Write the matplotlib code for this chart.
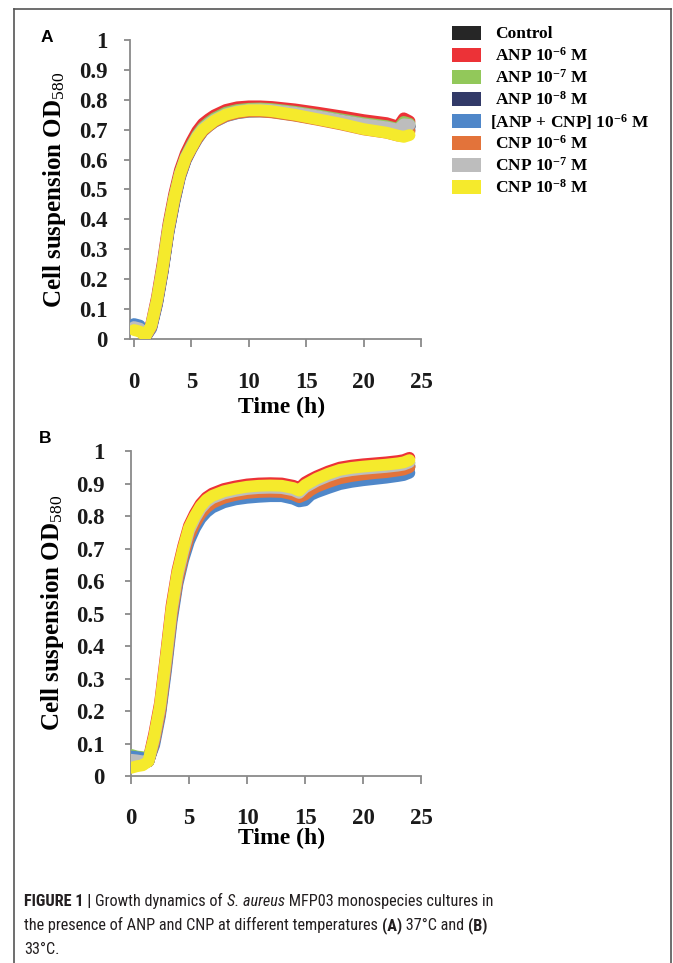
import matplotlib
matplotlib.use('Agg')
import matplotlib.pyplot as plt
from matplotlib.patches import Rectangle
from matplotlib.lines import Line2D
from matplotlib import font_manager

plt.rcParams['font.family'] = 'Liberation Serif'
plt.rcParams['mathtext.fontset'] = 'custom'
plt.rcParams['mathtext.rm'] = 'Liberation Serif'
plt.rcParams['mathtext.bf'] = 'Liberation Serif:bold'
plt.rcParams['mathtext.it'] = 'Liberation Serif:italic'

# series, in drawing order (yellow ends on top)
labels = ['Control', 'ANP 10$^{\\mathbf{-6}}$ M', 'ANP 10$^{\\mathbf{-7}}$ M', 'ANP 10$^{\\mathbf{-8}}$ M',
          '[ANP + CNP] 10$^{\\mathbf{-6}}$ M', 'CNP 10$^{\\mathbf{-6}}$ M', 'CNP 10$^{\\mathbf{-7}}$ M',
          'CNP 10$^{\\mathbf{-8}}$ M']
colors = ['#262626', '#ec3237', '#92c85a', '#323a68', '#4f87c9', '#e3733a', '#bdbdbd', '#f5ea2c']

# panel A, 37 C
time_a = [0, 0.5, 1, 1.5, 2, 2.5, 3, 3.5, 4, 4.5, 5, 5.5, 6, 6.5, 7, 8, 9, 10, 11, 12, 14, 16, 18, 20, 22, 23, 23.5, 24]
control_a = [0.040, 0.035, 0.008, 0.040, 0.120, 0.230, 0.360, 0.460, 0.545, 0.600, 0.638, 0.672, 0.698, 0.715, 0.730,
             0.750, 0.760, 0.765, 0.766, 0.764, 0.755, 0.742, 0.728, 0.714, 0.704, 0.695, 0.712, 0.710]
anp6_a = [0.035, 0.030, 0.012, 0.050, 0.140, 0.255, 0.385, 0.485, 0.565, 0.620, 0.660, 0.695, 0.720, 0.735, 0.748,
          0.766, 0.775, 0.778, 0.778, 0.776, 0.768, 0.757, 0.745, 0.732, 0.722, 0.710, 0.738, 0.728]
anp7_a = [0.040, 0.035, 0.010, 0.045, 0.130, 0.245, 0.375, 0.475, 0.555, 0.610, 0.648, 0.682, 0.708, 0.724, 0.738,
          0.757, 0.766, 0.770, 0.771, 0.769, 0.760, 0.748, 0.735, 0.722, 0.712, 0.702, 0.726, 0.720]
anp8_a = [0.040, 0.035, 0.008, 0.040, 0.120, 0.230, 0.360, 0.460, 0.545, 0.600, 0.638, 0.672, 0.698, 0.715, 0.730,
          0.750, 0.760, 0.765, 0.766, 0.764, 0.755, 0.743, 0.730, 0.716, 0.706, 0.697, 0.714, 0.712]
combo_a = [0.050, 0.045, 0.008, 0.035, 0.115, 0.225, 0.355, 0.455, 0.540, 0.597, 0.635, 0.668, 0.695, 0.712, 0.726,
           0.745, 0.755, 0.760, 0.761, 0.759, 0.748, 0.735, 0.720, 0.704, 0.693, 0.684, 0.695, 0.700]
cnp6_a = [0.035, 0.030, 0.008, 0.040, 0.122, 0.232, 0.362, 0.462, 0.545, 0.600, 0.637, 0.670, 0.696, 0.712, 0.727,
          0.746, 0.756, 0.761, 0.761, 0.758, 0.747, 0.733, 0.718, 0.701, 0.690, 0.680, 0.690, 0.695]
cnp7_a = [0.040, 0.035, 0.010, 0.045, 0.128, 0.240, 0.370, 0.470, 0.552, 0.607, 0.643, 0.678, 0.703, 0.719, 0.733,
          0.752, 0.762, 0.767, 0.768, 0.766, 0.757, 0.745, 0.731, 0.718, 0.708, 0.700, 0.718, 0.716]
cnp8_a = [0.030, 0.025, 0.010, 0.045, 0.130, 0.240, 0.370, 0.470, 0.550, 0.605, 0.640, 0.675, 0.700, 0.715, 0.730,
          0.750, 0.760, 0.765, 0.765, 0.762, 0.750, 0.735, 0.720, 0.702, 0.690, 0.680, 0.676, 0.682]

# panel B, 33 C
time_b = [0, 0.5, 1, 1.5, 2, 2.5, 3, 3.5, 4, 4.5, 5, 5.5, 6, 6.5, 7, 8, 9, 10, 11, 12, 13, 14, 14.5, 15, 15.5, 16,
          17, 18, 19, 20, 21, 22, 23, 23.5, 24]
control_b = [0.050, 0.048, 0.046, 0.045, 0.108, 0.200, 0.340, 0.495, 0.605, 0.680, 0.745, 0.782, 0.812, 0.832, 0.845,
             0.860, 0.868, 0.874, 0.877, 0.878, 0.877, 0.870, 0.862, 0.878, 0.888, 0.898, 0.913, 0.925, 0.931, 0.935,
             0.938, 0.941, 0.945, 0.948, 0.955]
anp6_b = [0.030, 0.035, 0.035, 0.050, 0.130, 0.225, 0.370, 0.525, 0.632, 0.707, 0.770, 0.807, 0.837, 0.857, 0.869,
          0.883, 0.891, 0.897, 0.900, 0.901, 0.900, 0.893, 0.885, 0.903, 0.913, 0.922, 0.937, 0.949, 0.955, 0.959,
          0.962, 0.965, 0.969, 0.972, 0.979]
anp7_b = [0.065, 0.060, 0.058, 0.050, 0.115, 0.205, 0.345, 0.500, 0.612, 0.688, 0.752, 0.790, 0.820, 0.840, 0.853,
          0.867, 0.875, 0.881, 0.884, 0.885, 0.884, 0.877, 0.869, 0.886, 0.896, 0.906, 0.921, 0.933, 0.939, 0.943,
          0.946, 0.949, 0.953, 0.956, 0.963]
anp8_b = [0.055, 0.050, 0.048, 0.045, 0.105, 0.195, 0.335, 0.490, 0.600, 0.676, 0.740, 0.778, 0.808, 0.828, 0.841,
          0.856, 0.864, 0.870, 0.873, 0.874, 0.873, 0.866, 0.858, 0.874, 0.884, 0.894, 0.909, 0.921, 0.927, 0.931,
          0.934, 0.937, 0.941, 0.944, 0.951]
combo_b = [0.060, 0.058, 0.055, 0.048, 0.095, 0.185, 0.320, 0.475, 0.590, 0.665, 0.722, 0.762, 0.792, 0.812, 0.826,
           0.842, 0.851, 0.856, 0.859, 0.861, 0.861, 0.853, 0.845, 0.848, 0.865, 0.873, 0.886, 0.898, 0.905, 0.910,
           0.914, 0.918, 0.923, 0.926, 0.933]
cnp6_b = [0.045, 0.045, 0.043, 0.045, 0.105, 0.195, 0.335, 0.490, 0.600, 0.676, 0.738, 0.776, 0.806, 0.826, 0.840,
          0.856, 0.865, 0.871, 0.874, 0.875, 0.874, 0.866, 0.858, 0.866, 0.880, 0.890, 0.904, 0.916, 0.923, 0.928,
          0.932, 0.935, 0.940, 0.943, 0.950]
cnp7_b = [0.050, 0.048, 0.045, 0.045, 0.115, 0.210, 0.350, 0.505, 0.615, 0.690, 0.755, 0.792, 0.822, 0.842, 0.855,
          0.869, 0.877, 0.883, 0.886, 0.887, 0.886, 0.879, 0.871, 0.888, 0.898, 0.908, 0.923, 0.935, 0.941, 0.945,
          0.948, 0.951, 0.955, 0.958, 0.965]
cnp8_b = [0.025, 0.030, 0.033, 0.045, 0.122, 0.217, 0.360, 0.515, 0.625, 0.700, 0.764, 0.800, 0.830, 0.850, 0.862,
          0.876, 0.884, 0.890, 0.893, 0.894, 0.893, 0.886, 0.878, 0.895, 0.905, 0.915, 0.930, 0.942, 0.948, 0.952,
          0.955, 0.958, 0.962, 0.965, 0.972]

series_a = [control_a, anp6_a, anp7_a, anp8_a, combo_a, cnp6_a, cnp7_a, cnp8_a]
series_b = [control_b, anp6_b, anp7_b, anp8_b, combo_b, cnp6_b, cnp7_b, cnp8_b]
xticks = [0, 5, 10, 15, 20, 25]
yticks = [0, 0.1, 0.2, 0.3, 0.4, 0.5, 0.6, 0.7, 0.8, 0.9, 1]
ytick_labels = ['0', '0.1', '0.2', '0.3', '0.4', '0.5', '0.6', '0.7', '0.8', '0.9', '1']

W, H = 673, 963
fig = plt.figure(figsize=(W / 100, H / 100), dpi=100)
fig.set_facecolor('white')

axis_grey = '#8a8a8a'


def px(x0, y0, x1, y1):
    # pixel box (top-left origin) -> figure rect
    return [x0 / W, 1 - y1 / H, (x1 - x0) / W, (y1 - y0) / H]


def setup(ax, xmin, ypad, xpad):
    ax.set_xlim(xmin, 25)
    ax.set_ylim(0, 1)
    for s in ['top', 'right']:
        ax.spines[s].set_visible(False)
    for s in ['left', 'bottom']:
        ax.spines[s].set_color(axis_grey)
        ax.spines[s].set_linewidth(1.3)
    ax.set_xticks(xticks)
    ax.set_yticks(yticks)
    ax.set_yticklabels(ytick_labels)
    ax.tick_params(axis='x', direction='out', length=6, width=1.3, color=axis_grey, pad=xpad,
                   labelsize=16.5, labelcolor='#1a1a1a')
    ax.tick_params(axis='y', direction='out', length=4, width=1.3, color=axis_grey, pad=ypad,
                   labelsize=16.5, labelcolor='#1a1a1a')
    for lab in ax.get_xticklabels() + ax.get_yticklabels():
        lab.set_fontweight('bold')
        lab.set_family('Liberation Serif')


def draw(ax, t, series):
    for ys, c in zip(series, colors):
        ax.plot(t, ys, color=c, lw=8.5, solid_capstyle='round', solid_joinstyle='round', zorder=3)


ax_a = fig.add_axes(px(130, 40, 421, 339))
setup(ax_a, -0.35, 12, 18)
draw(ax_a, time_a, series_a)

ax_b = fig.add_axes(px(131, 451, 421, 776))
setup(ax_b, 0, 15, 17)
draw(ax_b, time_b, series_b)

# axis titles
ylab = 'Cell suspension OD$_{\\mathrm{580}}$'
fig.text(55 / W, 1 - 190 / H, ylab, rotation=90, ha='center', va='center', fontsize=18, fontweight='bold')
fig.text(52 / W, 1 - 613 / H, ylab, rotation=90, ha='center', va='center', fontsize=18, fontweight='bold')
fig.text(282 / W, 1 - 407 / H, 'Time (h)', ha='center', va='center', fontsize=17, fontweight='bold')
fig.text(282 / W, 1 - 838 / H, 'Time (h)', ha='center', va='center', fontsize=17, fontweight='bold')

# panel letters
fig.text(47 / W, 1 - 38 / H, 'A', ha='center', va='center', fontsize=12.5, fontweight='bold', family='Liberation Sans')
fig.text(45 / W, 1 - 438 / H, 'B', ha='center', va='center', fontsize=12.5, fontweight='bold', family='Liberation Sans')

# legend
for i, (lab, c) in enumerate(zip(labels, colors)):
    yc = 33 + 22 * i
    fig.add_artist(Rectangle((452 / W, 1 - (yc + 7) / H), 29 / W, 14 / H, transform=fig.transFigure,
                             facecolor=c, edgecolor='none'))
    xt = 490 if lab.startswith('[') else 495
    fig.text(xt / W, 1 - (yc + 1) / H, lab, ha='left', va='center', fontsize=12.5, fontweight='bold')

# frame around the figure
frame_c = '#555555'
fig.add_artist(Line2D([14 / W, 14 / W], [0, 1 - 9 / H], transform=fig.transFigure, color=frame_c, lw=1.2))
fig.add_artist(Line2D([14 / W, 671 / W], [1 - 9 / H, 1 - 9 / H], transform=fig.transFigure, color=frame_c, lw=1.2))
fig.add_artist(Line2D([671 / W, 671 / W], [0, 1 - 9 / H], transform=fig.transFigure, color=frame_c, lw=1.2))

# caption
avail = {f.name for f in font_manager.fontManager.ttflist}
cap_font = 'Liberation Sans'
for f in ['Liberation Sans Narrow', 'DejaVu Sans Condensed', 'Roboto Condensed']:
    if f in avail:
        cap_font = f
        break
cap_size = 11.7 if cap_font != 'Liberation Sans' else 10.3
renderer = fig.canvas.get_renderer()


def run_width(txt, weight, style):
    t1 = fig.text(0, 0, '|' + txt + '|', fontsize=cap_size, family=cap_font, weight=weight, style=style)
    t2 = fig.text(0, 0, '||', fontsize=cap_size, family=cap_font, weight=weight, style=style)
    w = t1.get_window_extent(renderer).width - t2.get_window_extent(renderer).width
    t1.remove()
    t2.remove()
    return w


caption = [
    [('FIGURE 1 | ', 'bold', 'normal'), ('Growth dynamics of ', 'normal', 'normal'), ('S. aureus', 'normal', 'italic'),
     (' MFP03 monospecies cultures in', 'normal', 'normal')],
    [('the presence of ANP and CNP at different temperatures ', 'normal', 'normal'), ('(A)', 'bold', 'normal'),
     (' 37\u00b0C and ', 'normal', 'normal'), ('(B)', 'bold', 'normal')],
    [('33\u00b0C.', 'normal', 'normal')],
]
for k, line in enumerate(caption):
    x = 24.0
    yb = 906 + 24 * k
    for txt, weight, style in line:
        fig.text(x / W, 1 - yb / H, txt, fontsize=cap_size, family=cap_font, weight=weight, style=style,
                 ha='left', va='baseline', color='#231f20')
        x += run_width(txt, weight, style)

fig.savefig('out.png', dpi=100, facecolor='white')
